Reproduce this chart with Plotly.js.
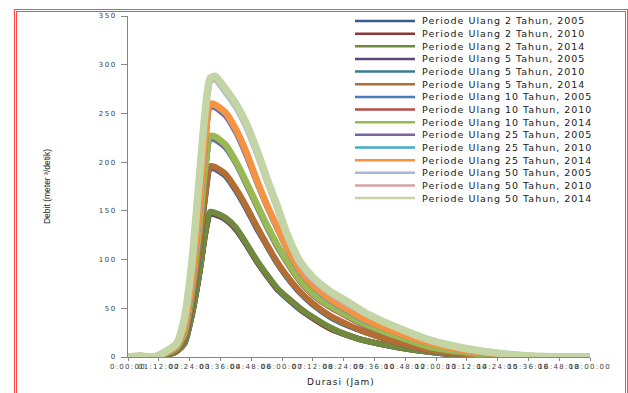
<!DOCTYPE html>
<html>
<head>
<meta charset="utf-8">
<script src="https://cdn.plot.ly/plotly-3.0.1.min.js"></script>
<style>
html,body{margin:0;padding:0;background:#fff;overflow:hidden;}
#wrap{position:relative;width:628px;height:393px;}
#chart{position:absolute;left:0;top:0;width:628px;height:393px;}
#frame{position:absolute;left:14px;top:9px;width:614px;height:430px;box-sizing:border-box;border:3px double #ff4848;pointer-events:none;}
.xtick text{letter-spacing:1.3px;}
.ytick text{letter-spacing:1.5px;}
.annotation-text{letter-spacing:1px;}
</style>
</head>
<body>
<div id="wrap"><div id="chart"></div><div id="frame"></div></div>
<script>
// Durasi (jam)
var durasiJam = [0, 0.5, 1.0, 1.5, 1.9, 2.2, 2.5, 2.8, 3.0, 3.2, 3.4, 3.8, 4.2, 4.6, 5.0, 5.4, 5.8, 6.2, 6.7, 7.2, 7.9, 8.6, 9.2, 10.5, 11.8, 13.1, 14.4, 15.7, 17.0, 18.0];

// Debit (m3/detik)
var q2_2005  = [0, 1, 0, 2, 6, 14, 44, 89, 125, 147, 146, 141, 131, 116, 99, 84, 70, 60, 49, 40, 29, 22, 17, 10, 5, 2, 0, 0, 0, 0];
var q2_2010  = [0, 1, 0, 2, 6, 14, 45, 89, 125, 148, 147, 142, 132, 116, 99, 84, 70, 61, 50, 40, 29, 22, 17, 10, 5, 2, 0, 0, 0, 0];
var q2_2014  = [0, 1, 0, 2, 6, 14, 45, 90, 126, 149, 148, 143, 133, 117, 100, 85, 71, 61, 50, 41, 30, 22, 17, 10, 5, 2, 0, 0, 0, 0];
var q5_2005  = [0, 1, 0, 3, 8, 19, 58, 116, 163, 194, 193, 186, 171, 153, 133, 115, 97, 82, 66, 54, 41, 32, 26, 15, 7, 3, 0, 0, 0, 0];
var q5_2010  = [0, 1, 0, 3, 8, 20, 59, 117, 164, 195, 194, 187, 172, 154, 134, 115, 97, 82, 67, 54, 41, 32, 26, 15, 7, 3, 0, 0, 0, 0];
var q5_2014  = [0, 1, 0, 3, 8, 20, 60, 118, 165, 196, 195, 188, 173, 155, 135, 116, 98, 83, 67, 55, 42, 33, 26, 15, 7, 3, 0, 0, 0, 0];
var q10_2005 = [0, 1, 0, 4, 10, 24, 68, 135, 189, 224, 223, 215, 199, 178, 156, 134, 114, 97, 78, 64, 51, 41, 33, 21, 10, 5, 1, 0, 0, 0];
var q10_2010 = [0, 1, 0, 4, 10, 25, 69, 137, 191, 226, 225, 217, 200, 179, 157, 135, 115, 97, 78, 64, 51, 41, 33, 21, 10, 5, 1, 0, 0, 0];
var q10_2014 = [0, 1, 0, 4, 10, 25, 70, 138, 192, 227, 226, 218, 201, 180, 158, 136, 116, 98, 79, 65, 52, 42, 34, 21, 10, 5, 1, 0, 0, 0];
var q25_2005 = [0, 1, 0, 5, 12, 29, 78, 156, 217, 257, 256, 248, 231, 208, 181, 156, 133, 111, 88, 73, 58, 47, 38, 25, 14, 7, 3, 0, 0, 0];
var q25_2010 = [0, 1, 0, 5, 12, 30, 79, 157, 219, 259, 258, 250, 233, 210, 182, 156, 133, 111, 88, 73, 58, 47, 38, 25, 14, 7, 3, 0, 0, 0];
var q25_2014 = [0, 1, 0, 5, 12, 30, 80, 158, 220, 260, 259, 251, 234, 211, 183, 157, 134, 112, 89, 74, 59, 48, 39, 25, 14, 7, 3, 0, 0, 0];
var q50_2005 = [0, 1, 0, 6, 14, 39, 98, 187, 247, 283, 285, 272, 257, 237, 211, 182, 154, 124, 96, 80, 65, 54, 45, 30, 17, 9, 4, 1, 0, 0];
var q50_2010 = [0, 1, 0, 6, 14, 40, 99, 189, 249, 285, 287, 274, 259, 239, 213, 183, 155, 125, 97, 81, 66, 55, 45, 30, 17, 9, 4, 1, 0, 0];
var q50_2014 = [0, 1, 0, 6, 14, 40, 100, 190, 250, 286, 288, 275, 260, 240, 214, 184, 156, 126, 98, 82, 67, 56, 46, 30, 17, 9, 4, 1, 0, 0];

var seriesNames = [
  'Periode Ulang 2 Tahun, 2005', 'Periode Ulang 2 Tahun, 2010', 'Periode Ulang 2 Tahun, 2014',
  'Periode Ulang 5 Tahun, 2005', 'Periode Ulang 5 Tahun, 2010', 'Periode Ulang 5 Tahun, 2014',
  'Periode Ulang 10 Tahun, 2005', 'Periode Ulang 10 Tahun, 2010', 'Periode Ulang 10 Tahun, 2014',
  'Periode Ulang 25 Tahun, 2005', 'Periode Ulang 25 Tahun, 2010', 'Periode Ulang 25 Tahun, 2014',
  'Periode Ulang 50 Tahun, 2005', 'Periode Ulang 50 Tahun, 2010', 'Periode Ulang 50 Tahun, 2014'
];
var seriesValues = [q2_2005, q2_2010, q2_2014, q5_2005, q5_2010, q5_2014, q10_2005, q10_2010, q10_2014,
                    q25_2005, q25_2010, q25_2014, q50_2005, q50_2010, q50_2014];

// x tick labels (durasi)
var xTickVals = [0, 1.2, 2.4, 3.6, 4.8, 6.0, 7.2, 8.4, 9.6, 10.8, 12.0, 13.2, 14.4, 15.6, 16.8, 18.0];
var xTickLabels = ['0:00:00', '01:12:00', '02:24:00', '03:36:00', '04:48:00', '06:00:00', '07:12:00', '08:24:00',
                   '09:36:00', '10:48:00', '12:00:00', '13:12:00', '14:24:00', '15:36:00', '16:48:00', '18:00:00'];

// styling
var seriesColors = ['#385D8A', '#8C3836', '#71893F', '#5C4776', '#357D91', '#B66D31',
                    '#4A7EBB', '#BE4B48', '#98B954', '#7D60A0', '#46AAC5', '#F69240',
                    '#A7B8DA', '#D9A3A1', '#C3D4A5'];
var seriesWidths = [6, 6, 6, 6, 6, 6, 6, 6, 6.5, 6, 6, 6.5, 6.5, 6.5, 7.5];

var traces = seriesValues.map(function (vals, i) {
  return {
    type: 'scatter', mode: 'lines', name: seriesNames[i],
    x: durasiJam, y: vals,
    line: {color: seriesColors[i], width: seriesWidths[i], shape: 'spline', smoothing: 0.6},
    showlegend: false, hoverinfo: 'skip'
  };
});

// compact legend (Excel-like row spacing)
var L = 128, R = 590, T = 16, B = 357;
var pw = R - L, ph = B - T;
function px2x(p) { return (p - L) / pw; }
function py2y(p) { return (B - p) / ph; }
var shapes = [], annotations = [];
seriesNames.forEach(function (nm, i) {
  var yy = py2y(21 + 12.65 * i);
  shapes.push({type: 'line', xref: 'paper', yref: 'paper', x0: px2x(355), x1: px2x(415), y0: yy, y1: yy,
               line: {color: seriesColors[i], width: 2.5}});
  annotations.push({xref: 'paper', yref: 'paper', x: px2x(420), y: yy, xanchor: 'left', yanchor: 'middle',
                    text: nm, showarrow: false,
                    font: {family: 'DejaVu Sans', size: 9.5, color: '#1a1a1a'}});
});
annotations.push({xref: 'paper', yref: 'paper', x: px2x(341), y: py2y(381.5), xanchor: 'center', yanchor: 'middle',
                  text: 'Durasi (Jam)', showarrow: false, font: {family: 'DejaVu Sans', size: 9, color: '#1a1a1a'}});

var layout = {
  width: 628, height: 393,
  margin: {l: L, r: 628 - R, t: T, b: 393 - B, pad: 0},
  paper_bgcolor: '#ffffff', plot_bgcolor: '#ffffff',
  showlegend: false,
  font: {family: 'DejaVu Sans', size: 7, color: '#404040'},
  xaxis: {
    range: [0, 18], tickmode: 'array', tickvals: xTickVals, ticktext: xTickLabels, tickangle: 0,
    ticks: 'outside', ticklen: 3, tickcolor: '#868686', showline: true, linecolor: '#868686', linewidth: 1,
    showgrid: false, zeroline: false, tickfont: {family: 'DejaVu Sans', size: 7, color: '#404040'}
  },
  yaxis: {
    range: [0, 350], tick0: 0, dtick: 50, ticks: 'outside', ticklen: 6, tickcolor: '#868686',
    showline: true, linecolor: '#868686', linewidth: 1, showgrid: false, zeroline: false,
    ticklabelstandoff: 3,
    tickfont: {family: 'DejaVu Sans', size: 7, color: '#404040'},
    title: {text: 'Debit (meter ³/detik)', standoff: 46,
            font: {family: 'Liberation Sans Narrow, Liberation Sans, sans-serif', size: 8.5, color: '#1a1a1a'}}
  },
  shapes: shapes,
  annotations: annotations
};

Plotly.newPlot('chart', traces, layout, {staticPlot: true, displayModeBar: false});
</script>
</body>
</html>
